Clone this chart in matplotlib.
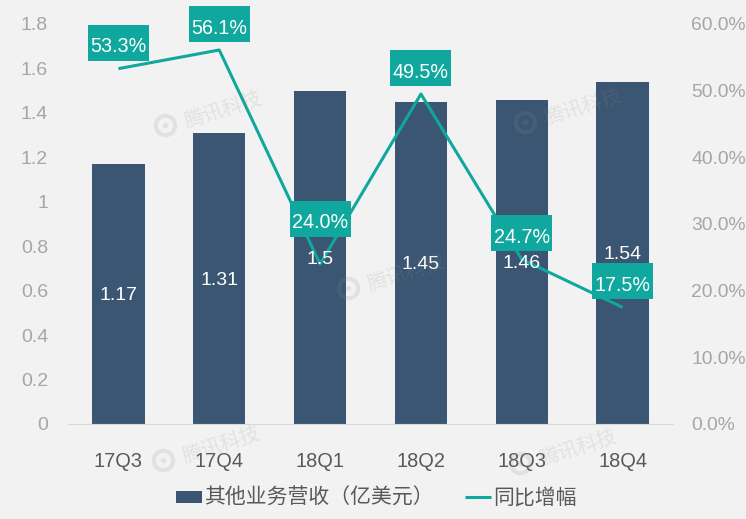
import matplotlib
matplotlib.use("Agg")
import matplotlib.pyplot as plt
from matplotlib.lines import Line2D
from matplotlib.path import Path

plt.rcParams['font.family'] = ['Liberation Sans', 'Noto Sans CJK SC', 'DejaVu Sans']

# data
quarters = ['17Q3', '17Q4', '18Q1', '18Q2', '18Q3', '18Q4']
revenue = [1.17, 1.31, 1.5, 1.45, 1.46, 1.54]
growth = [53.3, 56.1, 24.0, 49.5, 24.7, 17.5]
growth_labels = ['53.3%', '56.1%', '24.0%', '49.5%', '24.7%', '17.5%']
left_ticks = [0, 0.2, 0.4, 0.6, 0.8, 1, 1.2, 1.4, 1.6, 1.8]
left_tick_labels = ['0', '0.2', '0.4', '0.6', '0.8', '1', '1.2', '1.4', '1.6', '1.8']
right_ticks = [0, 10, 20, 30, 40, 50, 60]
right_tick_labels = ['0.0%', '10.0%', '20.0%', '30.0%', '40.0%', '50.0%', '60.0%']

navy = '#3B5672'
teal = '#10A89E'
bg = '#F2F2F2'
W, H = 746, 519


# fixed size label box, the bbox padding can't do different x and y
def label_box(x0, y0, width, height, mutation_size):
    cx, cy = x0 + width / 2, y0 + height / 2 + 4
    return Path([(cx - 30.5, cy - 18), (cx + 30.5, cy - 18), (cx + 30.5, cy + 18),
                 (cx - 30.5, cy + 18), (cx - 30.5, cy - 18)], closed=True)


fig = plt.figure(figsize=(W / 100, H / 100), dpi=100, facecolor=bg)
ax = fig.add_axes([68 / W, 1 - 424 / H, 605 / W, 400 / H], facecolor=bg)
x = list(range(len(quarters)))
bars = ax.bar(x, revenue, width=0.52, color=navy, zorder=2)
ax.set_xlim(-0.5, 5.5)
ax.set_ylim(0, 1.8)
ax.set_xticks(x)
ax.set_xticklabels(quarters, fontsize=14.4, color='#595959')
ax.set_yticks(left_ticks)
ax.set_yticklabels(left_tick_labels, fontsize=14, color='#a6a6a6')
ax.tick_params(length=0)
ax.tick_params(axis='x', pad=20.5)
ax.tick_params(axis='y', pad=14.4)
for s in ['top', 'left', 'right']:
    ax.spines[s].set_visible(False)
ax.spines['bottom'].set_color('#d9d9d9')

ax2 = ax.twinx()
ax2.set_ylim(0, 60)
ax2.set_yticks(right_ticks)
ax2.set_yticklabels(right_tick_labels, fontsize=13.9, color='#a6a6a6')
ax2.tick_params(length=0, pad=13)
for s in ax2.spines.values():
    s.set_visible(False)
line, = ax2.plot(x, growth, color=teal, lw=2.2, zorder=4, solid_capstyle='butt')

# value labels sit at mid-bar, above the line
for xi, v in zip(x, revenue):
    ax2.text(xi, v / 2, str(v), transform=ax.transData, ha='center', va='center_baseline',
             color='white', fontsize=14, zorder=4.5)

label_offsets = [15.8, 15.8, 29.8, 15.8, 15.8, 15.8]
for xi, g, t, off in zip(x, growth, growth_labels, label_offsets):
    ax2.annotate(t, (xi, g), xytext=(0, off), textcoords='offset points', ha='center', va='center',
                 color='white', fontsize=14.2, zorder=5,
                 bbox=dict(boxstyle=label_box, fc=teal, ec='none'))

# watermark: logo and text
for lx, ly in [(165, 125), (348, 288), (163, 460), (520, 463), (525, 122)]:
    fig.add_artist(Line2D([lx / W], [1 - ly / H], marker='o', ms=14, mfc='none', mec='#8c8c8c',
                          mew=3, alpha=0.16, transform=fig.transFigure, zorder=6))
    fig.add_artist(Line2D([lx / W], [1 - ly / H], marker='o', ms=4, mfc='#8c8c8c', mec='none',
                          alpha=0.16, transform=fig.transFigure, zorder=6))
    fig.text((lx + 58) / W, 1 - (ly - 15) / H, '腾讯科技', fontsize=14.5, color='#8c8c8c', alpha=0.16,
             rotation=18, ha='center', va='center', zorder=6)

fig.legend([bars, line], ['其他业务营收（亿美元）', '同比增幅'], loc='center', ncol=2,
           bbox_to_anchor=(376 / W, 1 - 498 / H), frameon=False, fontsize=15,
           labelcolor='#595959', handlelength=1.25, handleheight=0.5,
           handletextpad=0.1, columnspacing=1.5, borderpad=0, borderaxespad=0)

fig.savefig('out.png', dpi=100, facecolor=bg)
